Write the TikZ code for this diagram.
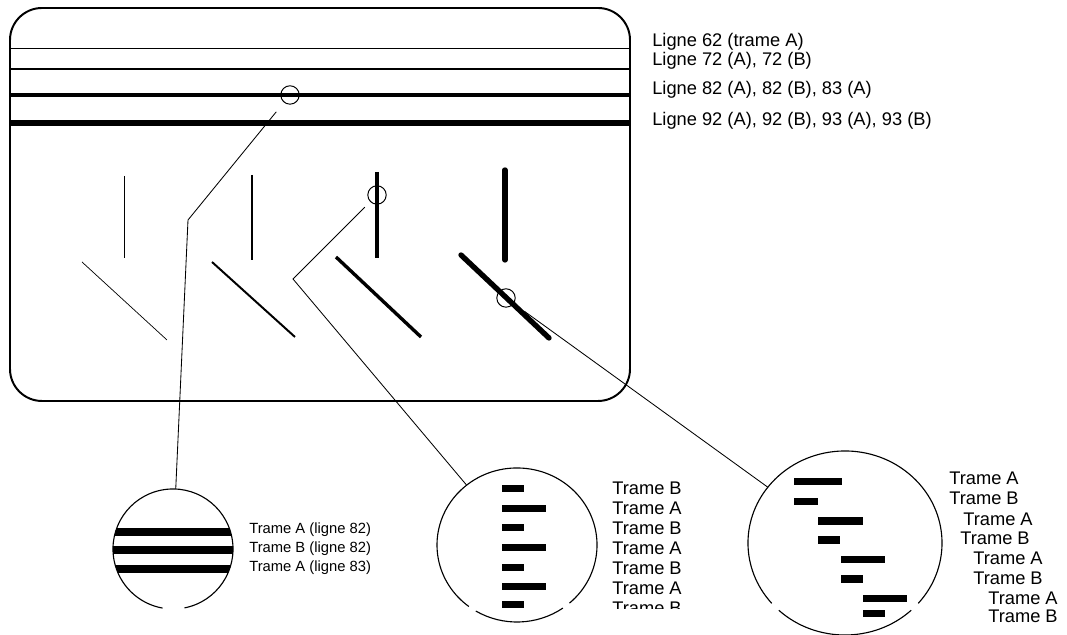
\documentclass[tikz,border=0pt]{standalone}
\usepackage{fontspec}
\setmainfont{Liberation Sans}
\usetikzlibrary{positioning,shapes.geometric}

\begin{document}
\begin{tikzpicture}[
  x=0.025cm, y=0.025cm,
  every node/.style={font=\fontsize{13}{15}\selectfont, inner sep=0pt},
  tag/.style={anchor=west},
  smalltag/.style={anchor=west,font=\fontsize{10.5}{12}\selectfont},
  loupe/.style={circle,draw,line width=0.7pt,minimum size=0.46cm,inner sep=0pt},
  lens/.style={line width=0.8pt},
  leader/.style={line width=0.6pt},
  bar/.style={fill=black},
]
  \useasboundingbox (0,0) rectangle (1067,635);

  % Screen
  \draw[line width=1.4pt,rounded corners=0.8cm] (10,627) rectangle (630,234);

  % Horizontal lines
  \draw[line width=0.5pt] (10,587) -- (630,587);
  \draw[line width=1.4pt] (10,566) -- (630,566);
  \draw[line width=2.4pt] (10,540) -- (630,540);
  \draw[line width=4pt] (10,512) -- (630,512);
  \node[tag] (l62) at (652,593) {Ligne 62 (trame A)};
  \node[tag] (l72) at (652,574) {Ligne 72 (A), 72 (B)};
  \node[tag] (l82) at (652,545) {Ligne 82 (A), 82 (B), 83 (A)};
  \node[tag] (l92) at (652,514) {Ligne 92 (A), 92 (B), 93 (A), 93 (B)};

  % Vertical lines
  \draw[line width=0.5pt] (124,459) -- (124,377);
  \draw[line width=1.4pt] (252,460) -- (252,375);
  \draw[line width=2.4pt] (377,463) -- (377,377);
  \draw[line width=3.8pt,line cap=round] (505,465) -- (505,375);

  % Oblique lines
  \draw[line width=0.5pt] (82,373) -- (167,295);
  \draw[line width=1.4pt] (212,373) -- (295,298);
  \draw[line width=2.4pt] (336,378) -- (421,298);
  \draw[line width=3.8pt,line cap=round] (461,380) -- (549,297);

  % Small loupes
  \node[loupe] (sc1) at (290,540) {};
  \node[loupe] (sc2) at (377,440) {};
  \node[loupe] (sc3) at (506,337) {};

  % Big loupes
  \node[circle,minimum size=3cm] (bc1) at (173,86) {};
  \node[ellipse,minimum width=4cm,minimum height=3.85cm] (bc2) at (517,90) {};
  \node[ellipse,minimum width=4.85cm,minimum height=4.6cm] (bc3) at (845,92) {};
  \draw[lens] (bc1.center) ++(-79:1.5cm) arc[start angle=-79,end angle=260,radius=1.5cm];
  \draw[lens] (bc2.center) ++(-49:2cm and 1.925cm)
    arc[start angle=-49,end angle=233,x radius=2cm,y radius=1.925cm];
  \draw[lens] (bc2.center) ++(239:2cm and 1.925cm)
    arc[start angle=239,end angle=305,x radius=2cm,y radius=1.925cm];
  \draw[lens] (bc3.center) ++(-41:2.425cm and 2.3cm)
    arc[start angle=-41,end angle=221,x radius=2.425cm,y radius=2.3cm];
  \draw[lens] (bc3.center) ++(227:2.425cm and 2.3cm)
    arc[start angle=227,end angle=313,x radius=2.425cm,y radius=2.3cm];

  % Leaders
  \coordinate (k1) at (188,415);
  \coordinate (k2) at (293,356);
  \draw[leader,shorten <=0.3cm] (sc1) -- (k1) -- (bc1);
  \draw[leader,shorten <=0.19cm] (sc2) -- (k2) -- (bc2);
  \draw[leader,shorten <=0.33cm] (sc3) -- (bc3);

  % Loupe 1
  \begin{scope}
    \clip (bc1.center) circle[radius=1.5cm];
    \fill[bar] (100,99.3) rectangle (250,107.3);
    \fill[bar] (100,81) rectangle (250,89);
    \fill[bar] (100,62) rectangle (250,70);
  \end{scope}
  \node[smalltag] (a82) at (249,105) {Trame A (ligne 82)};
  \node[smalltag] (b82) at (249,86) {Trame B (ligne 82)};
  \node[smalltag] (a83) at (249,67) {Trame A (ligne 83)};

  % Loupe 2
  \fill[bar] (502,142.5) rectangle (524,149.5);
  \fill[bar] (502,122.5) rectangle (546,129.5);
  \fill[bar] (502,103.5) rectangle (524,110.5);
  \fill[bar] (502,83.5) rectangle (546,90.5);
  \fill[bar] (502,63.5) rectangle (524,70.5);
  \fill[bar] (502,44.5) rectangle (546,51.5);
  \fill[bar] (502,26.5) rectangle (524,33.5);
  \node[tag] (t1) at (612,147) {Trame B};
  \node[tag] (t2) at (612,127) {Trame A};
  \node[tag] (t3) at (612,107) {Trame B};
  \node[tag] (t4) at (612,87) {Trame A};
  \node[tag] (t5) at (612,67) {Trame B};
  \node[tag] (t6) at (612,47) {Trame A};
  \begin{scope}
    \clip (600,26) rectangle (720,45);
    \node[tag] (t7) at (612,27) {Trame B};
  \end{scope}

  % Loupe 3
  \fill[bar] (794,149.8) rectangle (842,157.2);
  \fill[bar] (794,129.8) rectangle (818,137.2);
  \fill[bar] (818,110.3) rectangle (863,117.7);
  \fill[bar] (818,91.3) rectangle (840,98.7);
  \fill[bar] (841,71.8) rectangle (885,79.2);
  \fill[bar] (841,52.3) rectangle (863,59.7);
  \fill[bar] (863,32.8) rectangle (907,40.2);
  \fill[bar] (863,17.8) rectangle (885,25.2);
  \node[tag] (u1) at (949,157) {Trame A};
  \node[tag] (u2) at (949,137) {Trame B};
  \node[tag] (u3) at (963,116) {Trame A};
  \node[tag] (u4) at (960,97) {Trame B};
  \node[tag] (u5) at (973,77) {Trame A};
  \node[tag] (u6) at (973,57) {Trame B};
  \node[tag] (u7) at (988,37) {Trame A};
  \node[tag] (u8) at (988,19) {Trame B};
\end{tikzpicture}
\end{document}
